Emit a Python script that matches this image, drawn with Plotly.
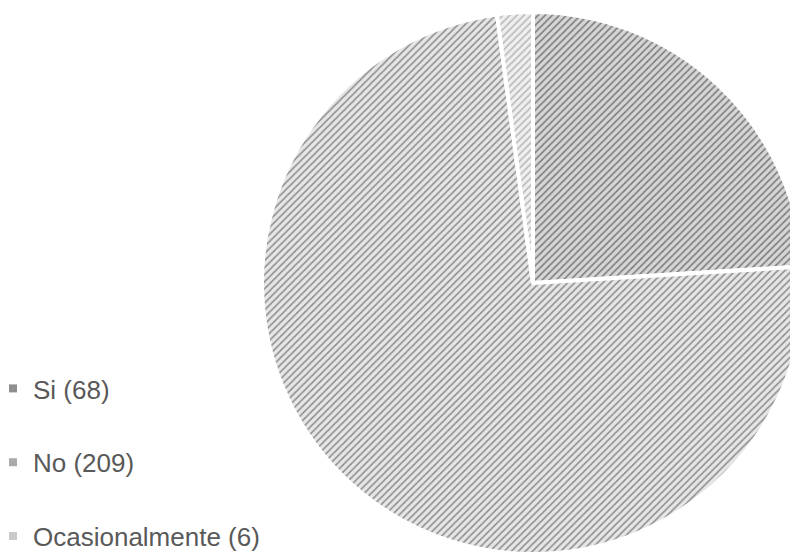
import plotly.graph_objects as go

labels = ["Si (68)", "No (209)", "Ocasionalmente (6)"]
values = [68, 209, 6]
bg_colors = ["#d6d6d6", "#e6e6e6", "#efefef"]
fg_colors = ["#7c7c7c", "#8e8e8e", "#b8b8b8"]
legend_colors = ["#8f8f8f", "#ababab", "#cbcbcb"]

W, H = 806, 546
R = 271
CX, CY = 525, 275

fig = go.Figure()
fig.add_trace(go.Pie(
    labels=labels,
    values=values,
    sort=False,
    direction="clockwise",
    rotation=0,
    textinfo="none",
    hoverinfo="label+value",
    showlegend=False,
    marker=dict(
        colors=bg_colors,
        line=dict(color="white", width=4),
        pattern=dict(shape="/", fgcolor=fg_colors, bgcolor=bg_colors, size=5, solidity=0.32),
    ),
    domain=dict(x=[(CX - R) / W, min(1, (CX + R) / W)],
                y=[max(0, (H - CY - R) / H), min(1, (H - CY + R) / H)]),
))

for lab, col in zip(labels, legend_colors):
    fig.add_trace(go.Scatter(
        x=[None], y=[None], mode="markers", name=lab, legendgroup=lab,
        marker=dict(symbol="square", size=8, color=col, line=dict(width=0)),
    ))

fig.update_layout(
    width=W, height=H,
    margin=dict(l=0, r=0, t=0, b=0, autoexpand=False),
    paper_bgcolor="white", plot_bgcolor="white",
    xaxis=dict(visible=False), yaxis=dict(visible=False),
    legend=dict(
        x=-15 / W, y=-6 / H, xanchor="left", yanchor="bottom",
        font=dict(family="Liberation Sans, Arial, sans-serif", size=26, color="#595959"),
        tracegroupgap=37, itemwidth=30, bgcolor="rgba(0,0,0,0)",
    ),
)

fig.write_html(
    "out.html",
    post_script="document.documentElement.style.overflow='hidden';document.body.style.overflow='hidden';",
)
